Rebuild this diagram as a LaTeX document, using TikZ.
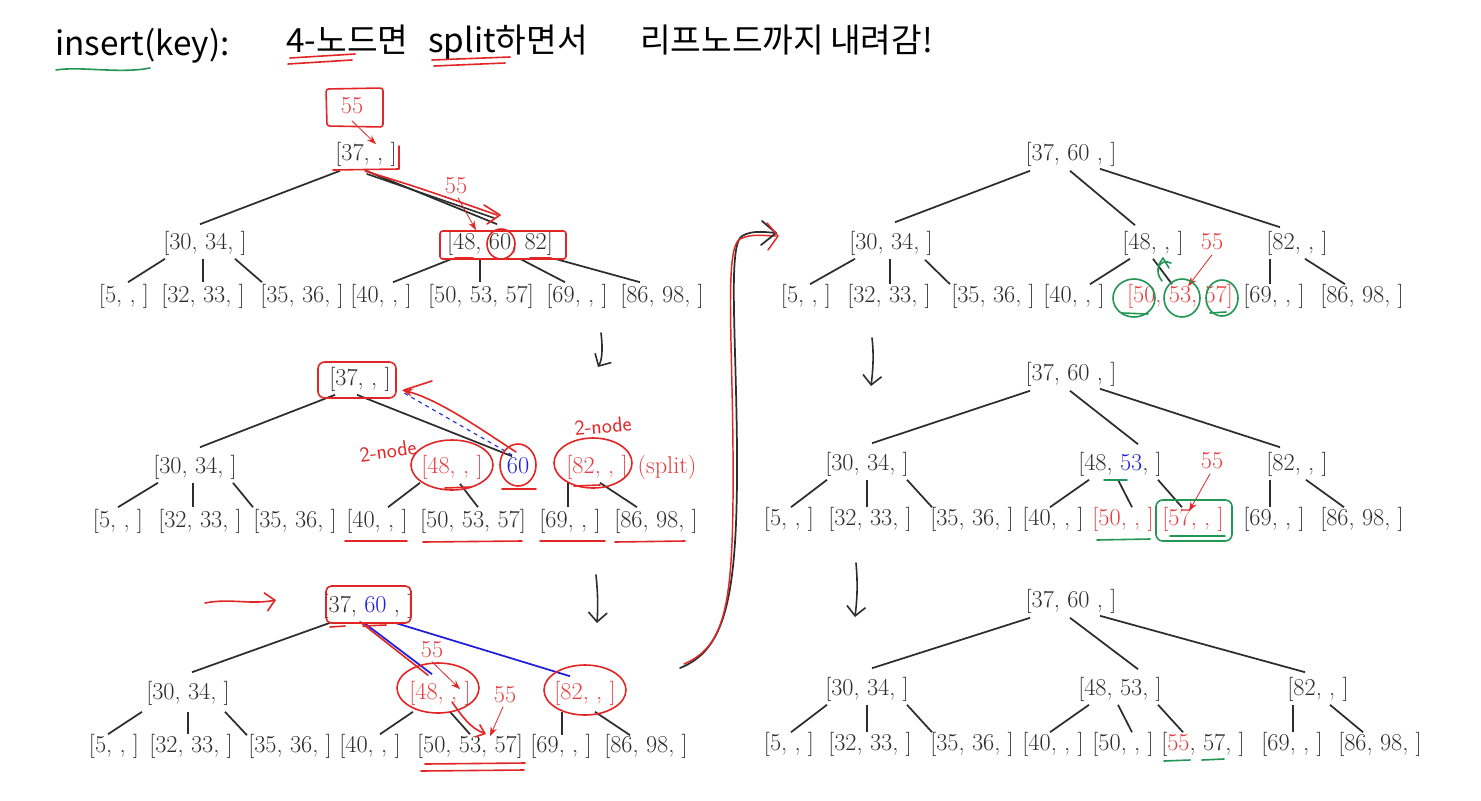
\documentclass[tikz,border=0pt]{standalone}
\usepackage{fontspec}
\newfontfamily\kofont{Noto Sans CJK KR}
\usetikzlibrary{calc,arrows.meta}
\definecolor{hred}{RGB}{226,38,38}
\definecolor{hgreen}{RGB}{34,150,84}
\definecolor{tred}{RGB}{232,60,60}
\definecolor{tblue}{RGB}{30,30,220}
\definecolor{ink}{RGB}{45,45,45}
\newcommand\tedge[4]{\draw[edge] ($(#1.south)+(#2)$) -- ($(#3.north)+(#4)$);}
\begin{document}
\begin{tikzpicture}[x=0.75pt,y=-0.75pt,
  key/.style={font=\fontsize{18.2}{22}\selectfont, text=ink, inner sep=1pt, text height=12.6pt, text depth=4.2pt},
  edge/.style={draw=ink, line width=1.3pt},
  hand/.style={line width=1.2pt, line cap=round, line join=round},
  hr/.style={hand, draw=hred},
  hg/.style={hand, draw=hgreen},
  hk/.style={hand, draw=ink},
  thin arrow/.style={hr, line width=0.6pt, -{Stealth[length=7pt,width=5pt]}},
  barb/.style={-{Straight Barb[length=7pt,width=14pt]}},
  title/.style={font=\kofont\fontsize{25}{28}\selectfont, text=black, inner sep=0pt, anchor=base west},
  nlabel/.style={text=hred, font=\sffamily\fontsize{16}{18}\selectfont, inner sep=0pt}]
\useasboundingbox[fill=white] (0,0) rectangle (1481,800);

% ---------------- title ----------------
\node[title] (ti1) at (55,55) {insert(key):};
\node[title] (ti2) at (286,52) {4-노드면};
\node[title] (ti3) at (428,52) {split하면서};
\node[title] (ti4) at (640,52) {리프노드까지};
\node[title] (ti5) at (830,52) {내려감!};
\draw[hg] (56,70) .. controls (80,66) and (120,74) .. (150,68);
\draw[hr] (290,58) -- (355,54);
\draw[hr] (288,64) -- (352,60);
\draw[hr] (432,60) -- (510,57);
\draw[hr] (434,66) -- (505,63);

% ---------------- tree 1 ----------------
\node[key] (a1r) at (366,155) {[37, , ]};
\node[key] (a1a) at (205,244) {[30, 34, ]};
\node[key] (a1b) at (500,244) {[48, 60, 82]};
\node[key] (a1l1) at (124,297) {[5, , ]};
\node[key] (a1l2) at (203,297) {[32, 33, ]};
\node[key] (a1l3) at (302,297) {[35, 36, ]};
\node[key] (a1l4) at (381,297) {[40, , ]};
\node[key] (a1l5) at (481,297) {[50, 53, 57]};
\node[key] (a1l6) at (577,297) {[69, , ]};
\node[key] (a1l7) at (662,297) {[86, 98, ]};
\tedge{a1r}{-26,3}{a1a}{-5,-7}
\tedge{a1r}{0,3}{a1b}{-3,-7}
\tedge{a1a}{-40,2}{a1l1}{4,-2}
\tedge{a1a}{-2,2}{a1l2}{0,-2}
\tedge{a1a}{30,2}{a1l3}{-40,-2}
\tedge{a1b}{-48,2}{a1l4}{12,-2}
\tedge{a1b}{-20,2}{a1l5}{-1,-2}
\tedge{a1b}{20,2}{a1l6}{-12,-2}
\tedge{a1b}{55,2}{a1l7}{-22,-2}
% annotations tree 1
\node[key, text=tred] (a1k) at (352,108) {55};
\draw[hr, rounded corners=2pt] (326,89) -- (383,88) -- (383,127) -- (327,126) -- cycle;
\draw[thin arrow] (a1k.south) -- ($(a1r.north)+(10,2)$);
\draw[hr] (333,170) -- (399,169) -- (399,146);
\draw[hk] (367,174) -- (494,218);
\draw[hr] (365,171) .. controls (420,188) .. (497,215);
\draw[hr] (484,205) -- (500,215) -- (487,224);
\node[key, text=tred] (a1k2) at (456,188) {55};
\draw[thin arrow] ($(a1k2.south)+(2,-3)$) -- ($(a1b.north)+(-24,-1)$);
\draw[hr, rounded corners=2pt] (440,231) rectangle (566,259);
\draw[hr] (501,244) ellipse (14 and 15);
\draw[hr] (455,258) -- (473,258);
\draw[hr] (530,258) -- (551,258);

% arrow between tree1 and tree2
\draw[hk, barb] (601,333) .. controls (603,350) and (602,360) .. (598,367);

% ---------------- tree 2 ----------------
\node[key] (a2r) at (360,380) {[37, , ]};
\node[key] (a2a) at (195,468) {[30, 34, ]};
\node[key, text=tred] (a2b) at (452,468) {[48, , ]};
\node[key, text=tblue] (a2c) at (518,468) {60};
\node[key, text=tred] (a2d) at (597,468) {[82, , ]};
\node[key, text=tred] (a2s) at (667,468) {(split)};
\node[key] (a2l1) at (118,522) {[5, , ]};
\node[key] (a2l2) at (200,522) {[32, 33, ]};
\node[key] (a2l3) at (295,522) {[35, 36, ]};
\node[key] (a2l4) at (377,522) {[40, , ]};
\node[key] (a2l5) at (473,522) {[50, 53, 57]};
\node[key] (a2l6) at (570,522) {[69, , ]};
\node[key] (a2l7) at (656,522) {[86, 98, ]};
\tedge{a2r}{-25,2}{a2a}{5,-8}
\tedge{a2r}{-3,2}{a2c}{-6,1}
\tedge{a2a}{-37,2}{a2l1}{0,-2}
\tedge{a2a}{-2,2}{a2l2}{-7,-2}
\tedge{a2a}{38,2}{a2l3}{-42,-2}
\tedge{a2b}{-32,2}{a2l4}{11,-2}
\tedge{a2b}{8,3}{a2l5}{5,-2}
\tedge{a2d}{-29,2}{a2l6}{-2,-2}
\tedge{a2d}{3,2}{a2l7}{-19,-2}
% annotations tree 2
\draw[hr, rounded corners=5pt] (318,362) rectangle (396,398);
\draw[tblue, dashed, line width=0.8pt] (512,455) -- (404,393);
\draw[hr, -{Stealth[length=8pt,width=6pt]}] (516,452) .. controls (485,432) and (440,400) .. (402,390);
\draw[hr] (404,390) -- (432,381);
\node[nlabel, rotate=8] (nn1) at (388,451) {2-node};
\node[nlabel, rotate=5] (nn2) at (603,426) {2-node};
\draw[hr] (452,465) ellipse (41 and 25);
\draw[hr] (518,465) ellipse (18 and 21);
\draw[hr] (593,463) ellipse (39 and 25);
\draw[hr] (445,488) -- (470,487);
\draw[hr] (502,489) -- (536,489);
\draw[hr] (574,486) -- (600,485);
\draw[hr] (345,541) -- (407,541);
\draw[hr] (423,542) -- (522,541);
\draw[hr] (540,541) -- (605,541);
\draw[hr] (615,542) -- (685,541);

% arrow between tree2 and tree3
\draw[hk, barb] (596,575) .. controls (598,595) and (598,608) .. (597,623);

% ---------------- tree 3 ----------------
\node[key] (a3r) at (368,607) {[37, {\color{tblue}60} , ]};
\node[key] (a3a) at (188,694) {[30, 34, ]};
\node[key, text=tred] (a3b) at (440,694) {[48, , ]};
\node[key, text=tred] (a3c) at (585,694) {[82, , ]};
\node[key] (a3l1) at (114,747) {[5, , ]};
\node[key] (a3l2) at (191,747) {[32, 33, ]};
\node[key] (a3l3) at (290,747) {[35, 36, ]};
\node[key] (a3l4) at (370,747) {[40, , ]};
\node[key] (a3l5) at (470,747) {[50, 53, 57]};
\node[key] (a3l6) at (561,747) {[69, , ]};
\node[key] (a3l7) at (646,747) {[86, 98, ]};
\tedge{a3r}{-38,3}{a3a}{4,-9}
\draw[draw=tblue, line width=1.3pt] ($(a3r.south)+(-4,3)$) -- ($(a3b.north)+(-8,-7)$);
\draw[hr] ($(a3r.south)+(-8,2)$) -- ($(a3b.north)+(-12,-6)$);
\draw[draw=tblue, line width=1.3pt] ($(a3r.south)+(27,3)$) -- ($(a3c.north)+(-15,-5)$);
\tedge{a3a}{-46,5}{a3l1}{-6,0}
\tedge{a3a}{0,5}{a3l2}{-3,0}
\tedge{a3a}{37,5}{a3l3}{-43,1}
\tedge{a3b}{-27,5}{a3l4}{10,0}
\tedge{a3b}{10,5}{a3l5}{0,0}
\tedge{a3c}{-23,5}{a3l6}{1,1}
\tedge{a3c}{10,5}{a3l7}{-16,1}
% annotations tree 3
\draw[hr, rounded corners=4pt] (326,586) rectangle (411,623);
\draw[hr, barb] (205,603) .. controls (230,598) and (250,605) .. (276,600);
\draw[hr] (330,627) -- (345,626);
\draw[hr] (363,626) -- (386,625);
\node[key, text=tred] (a3k1) at (432,652) {55};
\draw[thin arrow] ($(a3k1.south)+(0,-3)$) -- ($(a3b.north)+(20,8)$);
\node[key, text=tred] (a3k2) at (505,697) {55};
\draw[thin arrow] ($(a3k2.south)+(-2,-3)$) -- ($(a3l5.north)+(20,2)$);
\draw[hr, -{Straight Barb[length=6pt,width=10pt]}] (452,702) .. controls (462,716) and (470,728) .. (486,734);
\draw[hr] (438,688) ellipse (41 and 25);
\draw[hr] (585,690) ellipse (41 and 25);
\draw[hr] (425,764) -- (525,763);
\draw[hr] (421,771) -- (524,770);

% big connecting arrow
\draw[hk, line width=1.3pt] (680,668) .. controls (725,650) and (738,600) .. (737,450) .. controls (736,330) and (728,245) .. (742,236) .. controls (752,230) and (765,232) .. (776,233);
\draw[hr, line width=1.1pt] (684,664) .. controls (728,645) and (734,600) .. (733,450) .. controls (732,330) and (725,248) .. (740,239) .. controls (752,233) and (765,236) .. (776,236);
\draw[hk, line width=1.3pt] (762,221) -- (776,233) -- (761,245);
\draw[hr, line width=1.1pt] (767,223) -- (778,236) -- (768,250);

% ---------------- tree 4 ----------------
\node[key] (b1r) at (1071,155) {[37, 60 , ]};
\node[key] (b1a) at (891,244) {[30, 34, ]};
\node[key] (b1b) at (1153,244) {[48, , ]};
\node[key, text=tred] (b1k) at (1212,244) {55};
\node[key] (b1c) at (1297,244) {[82, , ]};
\node[key] (b1l1) at (806,297) {[5, , ]};
\node[key] (b1l2) at (889,297) {[32, 33, ]};
\node[key] (b1l3) at (993,297) {[35, 36, ]};
\node[key] (b1l4) at (1074,297) {[40, , ]};
\node[key, text=tred] (b1l5) at (1180,297) {[50, 53, 57]};
\node[key] (b1l6) at (1274,297) {[69, , ]};
\node[key] (b1l7) at (1362,297) {[86, 98, ]};
\tedge{b1r}{-41,3}{b1a}{4,-9}
\tedge{b1r}{-1,3}{b1b}{-18,-6}
\tedge{b1r}{29,1}{b1c}{-17,-4}
\tedge{b1a}{-36,2}{b1l1}{4,0}
\tedge{b1a}{-1,2}{b1l2}{1,0}
\tedge{b1a}{34,3}{b1l3}{-43,0}
\tedge{b1b}{-23,2}{b1l4}{16,0}
\tedge{b1b}{0,2}{b1l5}{-8,0}
\tedge{b1c}{-27,2}{b1l6}{-4,0}
\tedge{b1c}{8,2}{b1l7}{-17,0}
\draw[thin arrow] ($(b1k.south)+(0,-2)$) -- ($(b1l5.north)+(8,2)$);
\draw[hg] (1134,298) ellipse (21 and 19);
\draw[hg] (1182,298) ellipse (18 and 19);
\draw[hg] (1222,298) ellipse (16 and 18);
\draw[hg] (1162,281) .. controls (1153,270) and (1160,258) .. (1171,263);
\draw[hg] (1158,266) -- (1163,258) -- (1169,268);
\draw[hg] (1122,313) -- (1148,314);
\draw[hg] (1210,313) -- (1226,312);

% arrow between tree4 and tree5
\draw[hk, barb] (872,338) .. controls (874,355) and (873,370) .. (871,386);

% ---------------- tree 5 ----------------
\node[key] (b2r) at (1071,375) {[37, 60 , ]};
\node[key] (b2a) at (867,465) {[30, 34, ]};
\node[key] (b2b) at (1120,465) {[48, {\color{tblue}53}, ]};
\node[key, text=tred] (b2k) at (1212,463) {55};
\node[key] (b2c) at (1297,465) {[82, , ]};
\node[key] (b2l1) at (789,520) {[5, , ]};
\node[key] (b2l2) at (870,520) {[32, 33, ]};
\node[key] (b2l3) at (972,520) {[35, 36, ]};
\node[key] (b2l4) at (1053,520) {[40, , ]};
\node[key, text=tred] (b2l5) at (1123,520) {[50, , ]};
\node[key, text=tred] (b2l6) at (1193,520) {[57, , ]};
\node[key] (b2l7) at (1274,520) {[69, , ]};
\node[key] (b2l8) at (1362,520) {[86, 98, ]};
\tedge{b2r}{-41,3}{b2a}{5,-9}
\tedge{b2r}{-1,3}{b2b}{18,-8}
\tedge{b2r}{29,1}{b2c}{-17,-5}
\tedge{b2a}{-40,2}{b2l1}{2,0}
\tedge{b2a}{0,2}{b2l2}{-3,0}
\tedge{b2a}{40,2}{b2l3}{-40,0}
\tedge{b2b}{-31,2}{b2l4}{-3,0}
\tedge{b2b}{-2,2}{b2l5}{9,0}
\tedge{b2b}{38,2}{b2l6}{-11,0}
\tedge{b2c}{-27,2}{b2l7}{-4,0}
\tedge{b2c}{9,2}{b2l8}{-18,0}
\draw[hg] (1104,480) -- (1127,480);
\draw[thin arrow] ($(b2k.south)+(-2,-2)$) -- ($(b2l6.north)+(-4,4)$);
\draw[hg, rounded corners=5pt] (1156,500) rectangle (1232,541);
\draw[hg] (1097,540) -- (1150,539);
\draw[hg] (1170,536) -- (1225,536);

% arrow between tree5 and tree6
\draw[hk, barb] (856,563) .. controls (858,585) and (857,600) .. (855,617);

% ---------------- tree 6 ----------------
\node[key] (b3r) at (1071,602) {[37, 60 , ]};
\node[key] (b3a) at (867,690) {[30, 34, ]};
\node[key] (b3b) at (1120,690) {[48, 53, ]};
\node[key] (b3c) at (1318,690) {[82, , ]};
\node[key] (b3l1) at (789,745) {[5, , ]};
\node[key] (b3l2) at (870,745) {[32, 33, ]};
\node[key] (b3l3) at (972,745) {[35, 36, ]};
\node[key] (b3l4) at (1053,745) {[40, , ]};
\node[key] (b3l5) at (1123,745) {[50, , ]};
\node[key] (b3l6) at (1203,745) {[{\color{tred}55}, 57, ]};
\node[key] (b3l7) at (1292,745) {[69, , ]};
\node[key] (b3l8) at (1380,745) {[86, 98, ]};
\tedge{b3r}{-41,3}{b3a}{5,-9}
\tedge{b3r}{-1,3}{b3b}{18,-8}
\tedge{b3r}{29,1}{b3c}{-13,-5}
\tedge{b3a}{-40,2}{b3l1}{2,0}
\tedge{b3a}{0,2}{b3l2}{-3,0}
\tedge{b3a}{40,2}{b3l3}{-40,0}
\tedge{b3b}{-31,2}{b3l4}{-3,0}
\tedge{b3b}{-2,2}{b3l5}{9,0}
\tedge{b3b}{38,2}{b3l6}{-20,0}
\tedge{b3c}{-25,2}{b3l7}{1,0}
\tedge{b3c}{12,2}{b3l8}{-17,0}
\draw[hg] (1164,761) -- (1190,760);
\draw[hg] (1202,760) -- (1224,759);
\end{tikzpicture}
\end{document}
